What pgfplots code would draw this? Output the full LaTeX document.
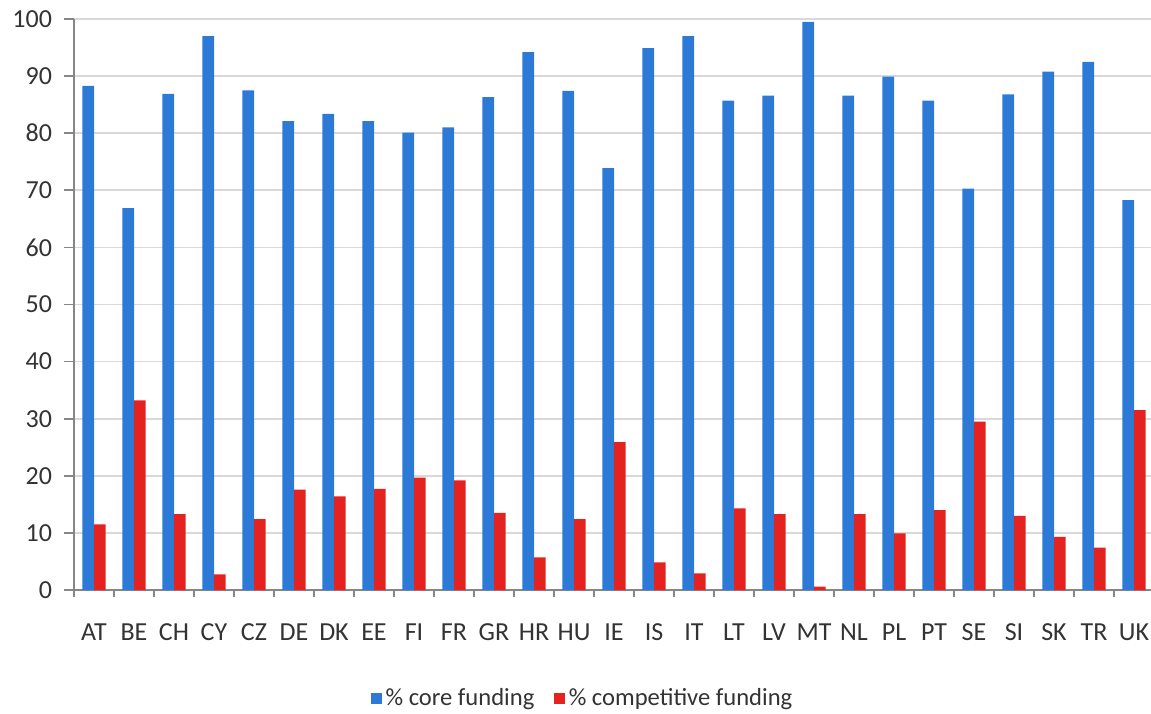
\documentclass[border=0pt]{standalone}
\usepackage{fontspec}
\setmainfont{Carlito}
\usepackage{pgfplots}
\pgfplotsset{compat=1.18}
\definecolor{cblue}{RGB}{44,122,214}
\definecolor{cred}{RGB}{228,35,32}
\definecolor{gridc}{RGB}{217,217,217}
\definecolor{axc}{RGB}{134,134,134}
\begin{document}
\begin{tikzpicture}
\begin{axis}[name=ax, scale only axis, width=540pt, height=285.5pt,
  ybar=0pt, bar width=5.85pt,
  xmin=-0.5, xmax=26.5, ymin=0, ymax=100,
  xtick={0,...,26},
  xticklabels={AT,BE,CH,CY,CZ,DE,DK,EE,FI,FR,GR,HR,HU,IE,IS,IT,LT,LV,MT,NL,PL,PT,SE,SI,SK,TR,UK},
  minor xtick={-0.5,0.5,...,26.5},
  ytick={0,10,...,100},
  axis x line*=bottom, axis y line*=left,
  axis line style={draw=axc, line width=0.8pt, -},
  tick align=outside,
  major x tick style={draw=none},
  minor x tick style={draw=axc, line width=0.8pt},
  minor tick length=3.5pt,
  major y tick style={draw=axc, line width=0.8pt},
  major tick length=5pt,
  ymajorgrids, grid style={draw=gridc, line width=0.8pt},
  tick label style={font=\fontsize{13}{15}\selectfont, text=black!80},
  xticklabel style={yshift=-8.5pt},
  yticklabel style={xshift=-2.5pt},
  /pgf/number format/assume math mode=true,
  legend style={at={(0.472,-0.19)}, anchor=center, draw=none, legend columns=2,
    font=\fontsize{12.3}{14}\selectfont, text=black!80,
    /tikz/every even column/.append style={column sep=8pt}},
  legend image code/.code={\fill[#1] (0pt,-2.6pt) rectangle (5.2pt,2.6pt);},
  clip=false,
]
\addplot[fill=cblue, draw=none] coordinates {
(0,88.3) (1,66.9) (2,86.9) (3,97.0) (4,87.5) (5,82.1) (6,83.4) (7,82.1) (8,80.1) (9,81.0)
(10,86.3) (11,94.2) (12,87.4) (13,73.9) (14,94.9) (15,97.0) (16,85.7) (17,86.6) (18,99.5) (19,86.6)
(20,89.9) (21,85.7) (22,70.3) (23,86.8) (24,90.8) (25,92.5) (26,68.3)};
\addlegendentry{\% core funding}
\addplot[fill=cred, draw=none] coordinates {
(0,11.5) (1,33.2) (2,13.3) (3,2.75) (4,12.4) (5,17.6) (6,16.4) (7,17.7) (8,19.7) (9,19.2)
(10,13.5) (11,5.7) (12,12.4) (13,25.9) (14,4.85) (15,2.9) (16,14.3) (17,13.3) (18,0.6) (19,13.3)
(20,9.9) (21,14.0) (22,29.5) (23,13.0) (24,9.3) (25,7.4) (26,31.5)};
\addlegendentry{\% competitive funding}
\end{axis}
\pgfresetboundingbox
\path[use as bounding box] ([xshift=-37pt,yshift=-61.5pt]ax.south west) rectangle ([xshift=-1.5pt,yshift=9.5pt]ax.north east);
\end{tikzpicture}
\end{document}
